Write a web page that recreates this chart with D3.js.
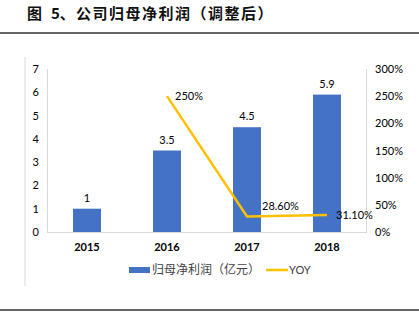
<!DOCTYPE html>
<html><head><meta charset="utf-8">
<script src="https://cdn.jsdelivr.net/npm/d3@7"></script>
<style>body{margin:0;background:#fff;}svg{display:block;}</style>
</head><body>
<script>
const categories = ["2015","2016","2017","2018"];
const profit = [1, 3.5, 4.5, 5.9];
const profitLabels = ["1","3.5","4.5","5.9"];
const yoy = [null, 250, 28.6, 31.1];
const yoyLabels = [null, "250%", "28.60%", "31.10%"];
const leftTicks = [0,1,2,3,4,5,6,7];
const rightTicks = [0,50,100,150,200,250,300];
const titleParts = ["图", "5、", "公司归母净利润（调整后）"];
const legendNames = ["归母净利润（亿元）","YOY"];

const W=419,H=324;
const svg=d3.select("body").append("svg").attr("width",W).attr("height",H);
const font="Lato, 'Noto Sans CJK SC', sans-serif";
const cjk="'Noto Sans CJK SC', sans-serif";

const tx=[27,51,76];
titleParts.forEach((t,i)=>{
  svg.append("text").attr("x",tx[i]).attr("y",19).text(t)
    .attr("font-family",cjk).attr("font-size",15).attr("font-weight",600)
    .attr("fill","#111").attr("letter-spacing",i===2?"1.5":"0");
});
svg.append("line").attr("x1",0).attr("x2",W).attr("y1",33).attr("y2",33).attr("stroke","#333").attr("stroke-width",1.5);
svg.append("line").attr("x1",0).attr("x2",W).attr("y1",310).attr("y2",310).attr("stroke","#333").attr("stroke-width",1.5);
svg.append("line").attr("x1",25).attr("x2",25).attr("y1",57).attr("y2",286).attr("stroke","#d9d9d9").attr("stroke-width",1);

const x=d3.scaleBand().domain(categories).range([47,367]).paddingInner(0.65).paddingOuter(0.325);
const y=d3.scaleLinear().domain([0,7]).range([232,69]);
const y2=d3.scaleLinear().domain([0,300]).range([232,69]);

svg.append("line").attr("x1",47.5).attr("x2",47.5).attr("y1",69).attr("y2",232).attr("stroke","#d9d9d9");
svg.append("line").attr("x1",366.5).attr("x2",366.5).attr("y1",69).attr("y2",232).attr("stroke","#d9d9d9");
svg.append("line").attr("x1",47).attr("x2",367).attr("y1",232.5).attr("y2",232.5).attr("stroke","#d9d9d9");

const la=svg.append("g").attr("transform","translate(47,0)").call(d3.axisLeft(y).tickValues(leftTicks).tickSize(0).tickPadding(8).tickFormat(d3.format("d")));
la.select(".domain").remove();
la.selectAll("text").attr("font-family",font).attr("font-size",11).attr("fill","#000");
const ra=svg.append("g").attr("transform","translate(367,0)").call(d3.axisRight(y2).tickValues(rightTicks).tickSize(0).tickPadding(8).tickFormat(d=>d+"%"));
ra.select(".domain").remove();
ra.selectAll("text").attr("font-family",font).attr("font-size",11).attr("fill","#000");
const ba=svg.append("g").attr("transform","translate(0,232)").call(d3.axisBottom(x).tickSize(0).tickPadding(11));
ba.select(".domain").remove();
ba.selectAll("text").attr("font-family",font).attr("font-size",11).attr("font-weight","bold").attr("fill","#000");

svg.selectAll("rect.bar").data(profit).enter().append("rect").attr("class","bar")
  .attr("x",(d,i)=>x(categories[i])).attr("width",x.bandwidth())
  .attr("y",d=>y(d)).attr("height",d=>y(0)-y(d)).attr("fill","#4472C4");
svg.selectAll("text.bl").data(profit).enter().append("text").attr("class","bl")
  .attr("x",(d,i)=>x(categories[i])+x.bandwidth()/2).attr("y",d=>y(d)-7)
  .attr("text-anchor","middle").attr("font-family",font).attr("font-size",11).attr("fill","#000")
  .text((d,i)=>profitLabels[i]);

const pts=yoy.map((v,i)=>({v,c:categories[i],l:yoyLabels[i]})).filter(d=>d.v!==null);
const line=d3.line().x(d=>x(d.c)+x.bandwidth()/2).y(d=>y2(d.v));
svg.append("path").datum(pts).attr("d",line).attr("fill","none").attr("stroke","#FFC000").attr("stroke-width",2.5);
svg.selectAll("text.yl").data(pts).enter().append("text").attr("class","yl")
  .attr("x",(d,i)=>x(d.c)+x.bandwidth()/2+(i===0?8:(i===1?15:9)))
  .attr("y",(d,i)=>y2(d.v)+(i===0?4:(i===1?-6:4)))
  .attr("font-family",font).attr("font-size",11).attr("fill","#000").text(d=>d.l);

const lg=svg.append("g");
lg.append("rect").attr("x",129).attr("y",267).attr("width",21).attr("height",6).attr("fill","#4472C4");
lg.append("text").attr("x",152).attr("y",274).text(legendNames[0]).attr("font-family",cjk).attr("font-size",12).attr("fill","#404040");
lg.append("line").attr("x1",266).attr("x2",288).attr("y1",270).attr("y2",270).attr("stroke","#FFC000").attr("stroke-width",2.5);
lg.append("text").attr("x",289).attr("y",274).text(legendNames[1]).attr("font-family",font).attr("font-size",11).attr("fill","#404040");
</script>
</body></html>
